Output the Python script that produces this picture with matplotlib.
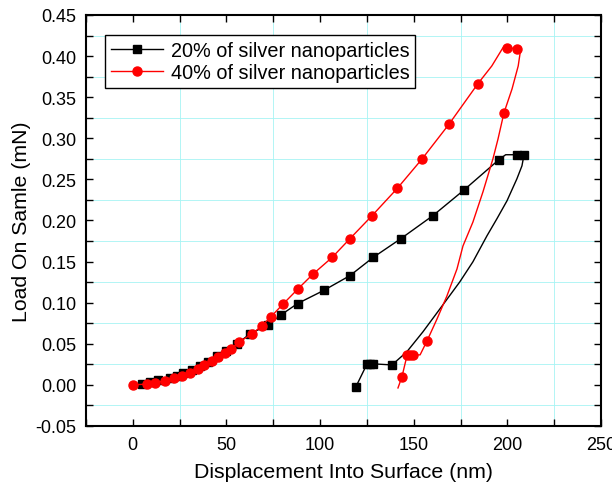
import matplotlib
matplotlib.use("Agg")
import matplotlib.pyplot as plt
from matplotlib.ticker import MultipleLocator

plt.rcParams['font.family'] = ['Liberation Sans', 'DejaVu Sans']

# 20% series (loading with markers, then unloading)
x20 = [4.9, 9.2, 13.5, 19.8, 23.6, 26.8, 31.6, 35.9, 40.2, 45.0, 49.7, 55.6, 62.6, 72.2,
       79.0, 88.0, 102.0, 116.0, 128.3, 143.2, 160.3, 176.8, 195.5, 199.1, 205.1, 208.9,
       207.8, 205.1, 199.8, 194.4, 189.1, 181.6, 174.6, 164.0, 154.9, 146.3, 138.4,
       128.3, 126.5, 125.1, 119.1]
y20 = [0.0015, 0.0035, 0.0055, 0.008, 0.0105, 0.014, 0.018, 0.0225, 0.028, 0.0355, 0.041,
       0.050, 0.062, 0.073, 0.085, 0.099, 0.115, 0.133, 0.155, 0.178, 0.206, 0.237, 0.274,
       0.280, 0.280, 0.280,
       0.2665, 0.2507, 0.2239, 0.202, 0.1813, 0.1497, 0.1253, 0.0925, 0.0645, 0.0402, 0.0243,
       0.0256, 0.0256, 0.0256, -0.0024]
m20 = list(range(0, 23)) + [24, 25, 36, 37, 38, 39, 40]

# 40% series
x40 = [0.0, 7.6, 11.9, 17.2, 22.0, 26.3, 30.5, 34.8, 38.1, 42.3, 45.5, 49.2, 52.4, 56.7,
       63.6, 69.0, 73.8, 80.3, 88.3, 96.3, 106.4, 116.0, 127.8, 141.2, 154.5, 168.8, 184.3,
       191.7, 197.6, 199.8, 205.1,
       206.9, 205.8, 202.5, 198.2, 195.0, 192.3, 187.0, 181.6, 176.3, 173.1, 167.7, 162.4,
       157.1, 153.4, 149.5, 148.0, 146.5, 143.7, 141.6]
y40 = [0.0, 0.001, 0.0025, 0.005, 0.0085, 0.011, 0.0146, 0.0195, 0.0243, 0.029, 0.034, 0.039,
       0.044, 0.052, 0.062, 0.072, 0.083, 0.0985, 0.117, 0.135, 0.155, 0.178, 0.206, 0.239,
       0.275, 0.317, 0.3665, 0.388, 0.410, 0.410, 0.409,
       0.405, 0.388, 0.360, 0.331, 0.299, 0.275, 0.235, 0.198, 0.169, 0.141, 0.108, 0.080,
       0.0535, 0.0365, 0.0365, 0.0365, 0.0365, 0.0097, -0.0037]
m40 = list(range(0, 27)) + [29, 30, 34, 43, 45, 46, 47, 48]

fig = plt.figure(figsize=(6.12, 4.89), dpi=100)
ax = fig.add_axes([0.1405, 0.1268, 0.8415, 0.8405])

ax.plot(x20, y20, color='black', lw=1.0, marker='s', ms=5.5, markevery=m20,
        label='20% of silver nanoparticles', zorder=3)
ax.plot(x40, y40, color='red', lw=1.0, marker='o', ms=6.5, markevery=m40,
        label='40% of silver nanoparticles', zorder=4)

ax.set_xlim(-25, 250)
ax.set_ylim(-0.05, 0.45)
ax.xaxis.set_major_locator(MultipleLocator(50))
ax.xaxis.set_minor_locator(MultipleLocator(25))
ax.yaxis.set_major_locator(MultipleLocator(0.05))
ax.yaxis.set_minor_locator(MultipleLocator(0.025))
ax.yaxis.set_major_formatter(matplotlib.ticker.FormatStrFormatter('%.2f'))

ax.grid(False)
ax.grid(which='minor', color='#a6f4f4', lw=0.6, zorder=0)
ax.set_axisbelow(True)

ax.tick_params(which='both', direction='in', top=True, right=True, length=5, width=1.0,
               labelsize=13, pad=7)
for s in ax.spines.values():
    s.set_linewidth(1.5)

ax.set_xlabel('Displacement Into Surface (nm)', fontsize=15.3, labelpad=7)
ax.set_ylabel('Load On Samle (mN)', fontsize=15.3, labelpad=3)

leg = ax.legend(loc='upper left', bbox_to_anchor=(0.037, 0.951), borderaxespad=0,
                fontsize=14.3, frameon=True, fancybox=False, edgecolor='black',
                framealpha=1, handlelength=2.6, borderpad=0.3, labelspacing=0.15,
                handletextpad=0.4)
leg.get_frame().set_linewidth(1.0)

fig.savefig('out.png', dpi=100)
